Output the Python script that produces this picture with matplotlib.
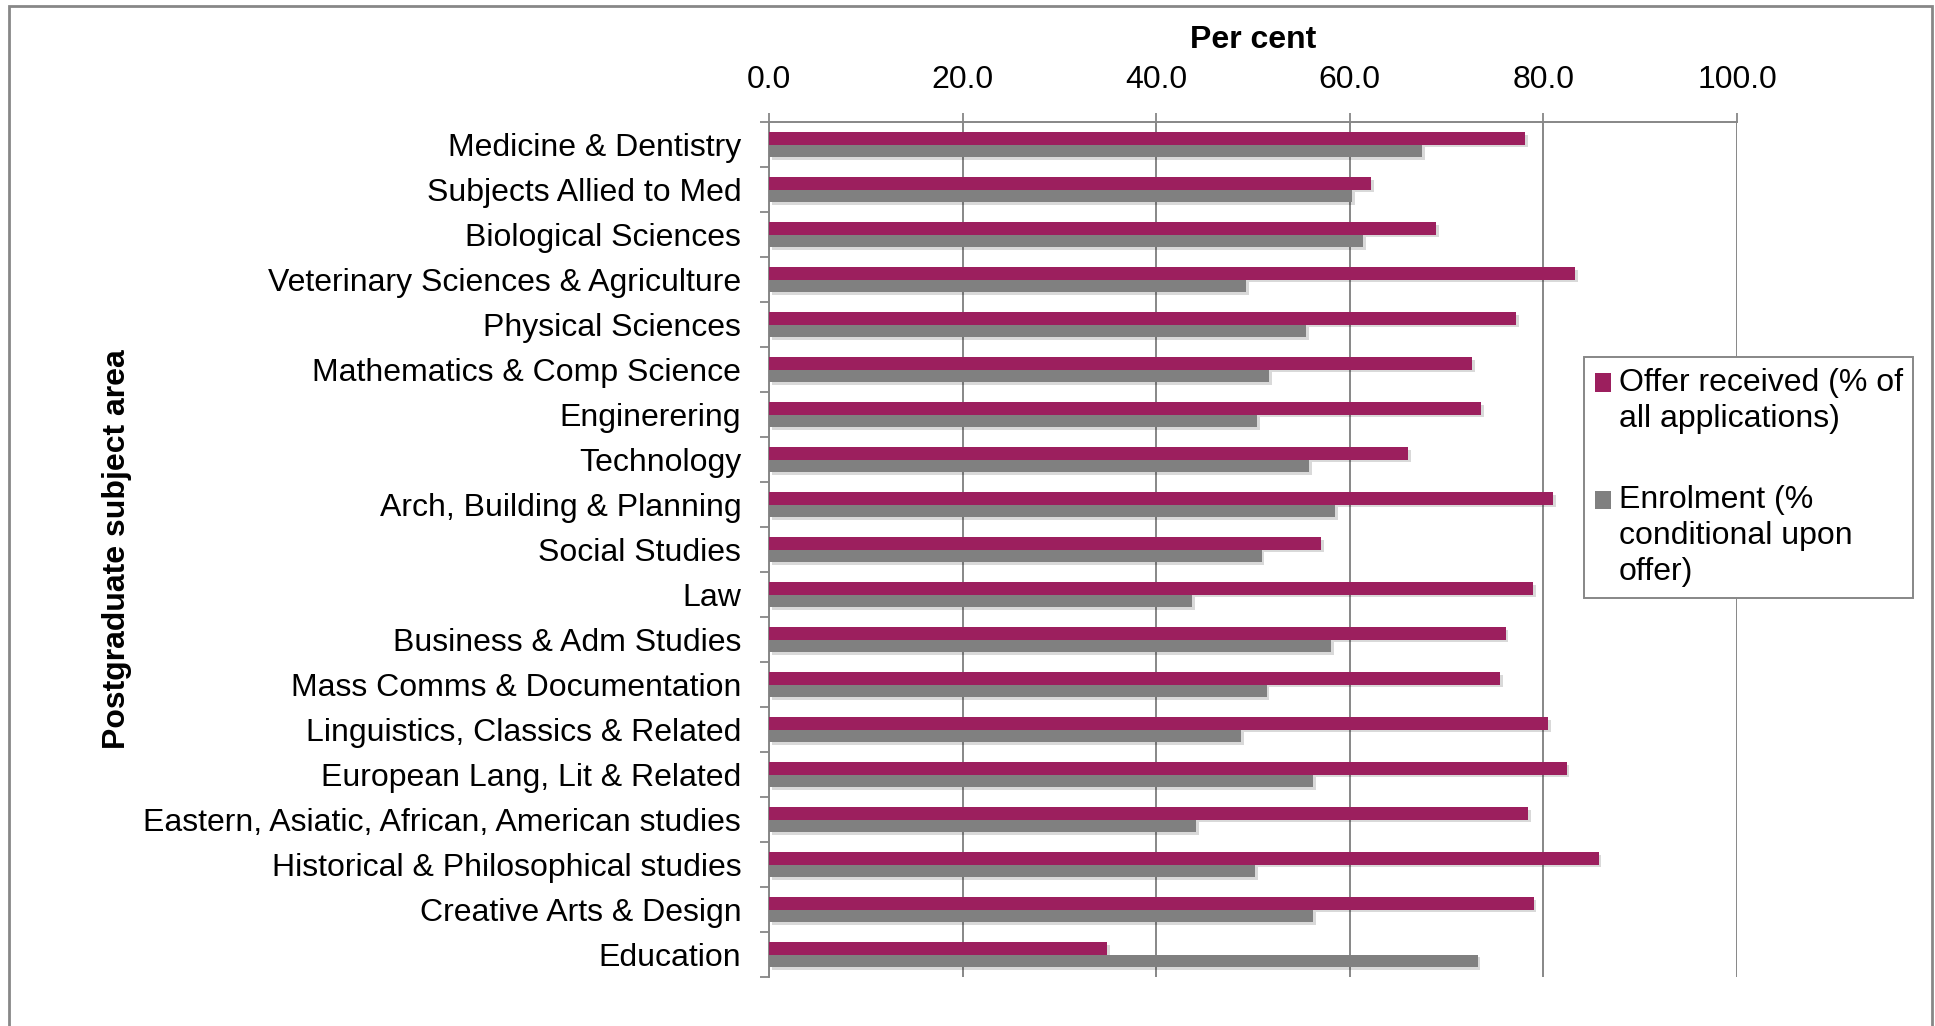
import matplotlib
matplotlib.use("Agg")
import matplotlib.pyplot as plt
import matplotlib.patheffects as pe
from matplotlib.patches import Rectangle, Patch
from matplotlib.legend_handler import HandlerPatch
import numpy as np

# data (per cent)
subjects = ["Medicine & Dentistry", "Subjects Allied to Med", "Biological Sciences",
            "Veterinary Sciences & Agriculture", "Physical Sciences",
            "Mathematics & Comp Science", "Enginerering", "Technology",
            "Arch, Building & Planning", "Social Studies", "Law",
            "Business & Adm Studies", "Mass Comms & Documentation",
            "Linguistics, Classics & Related", "European Lang, Lit & Related",
            "Eastern, Asiatic, African, American studies",
            "Historical & Philosophical studies", "Creative Arts & Design", "Education"]
offer = [78.1, 62.2, 68.9, 83.3, 77.2, 72.6, 73.6, 66.0, 81.0, 57.0,
         78.9, 76.1, 75.5, 80.5, 82.4, 78.4, 85.7, 79.0, 34.9]
enrol = [67.5, 60.2, 61.4, 49.3, 55.5, 51.7, 50.4, 55.8, 58.5, 50.9,
         43.7, 58.1, 51.4, 48.8, 56.2, 44.1, 50.2, 56.2, 73.2]
series_names = ["Offer received (% of\nall applications)",
                "Enrolment (%\nconditional upon\noffer)"]
xticks = [0, 20, 40, 60, 80, 100]

magenta = "#9C1F5E"
grey = "#808080"
linecol = "#878787"
fs = 23

plt.rcParams['font.family'] = ['Liberation Sans', 'DejaVu Sans']

fig = plt.figure(figsize=(19.35, 10.26), dpi=100)
ax = fig.add_axes([769/1935, 1 - 977/1026, 968/1935, 855/1026])

y = np.arange(len(subjects))
h = 0.278
shadow = [pe.SimplePatchShadow(offset=(2, -2), shadow_rgbFace="#000000", alpha=0.15), pe.Normal()]
b1 = ax.barh(y - h/2, offer, height=h, color=magenta, zorder=3)
b2 = ax.barh(y + h/2, enrol, height=h, color=grey, zorder=3)
for bar in list(b1) + list(b2):
    bar.set_path_effects(shadow)

ax.set_xlim(0, 100)
ax.set_ylim(len(subjects) - 0.5, -0.5)

# x axis on top
ax.xaxis.tick_top()
ax.xaxis.set_label_position('top')
ax.set_xticks(xticks)
ax.set_xticklabels([f"{v:.1f}" for v in xticks], fontsize=fs)
ax.tick_params(axis='x', direction='out', length=6.5, width=1.3, color=linecol, pad=13)
ax.set_xlabel("Per cent", fontsize=fs, fontweight='bold', labelpad=12)
ax.grid(axis='x', color=linecol, linewidth=1.4, zorder=0)

# y ticks at category boundaries, labels at centres
ax.set_yticks(np.arange(-0.5, len(subjects), 1.0))
ax.set_yticklabels([])
ax.set_yticks(y, minor=True)
ax.set_yticklabels(subjects, minor=True, fontsize=fs)
ax.tick_params(axis='y', which='major', direction='out', length=6.5, width=1.3, color=linecol)
ax.tick_params(axis='y', which='minor', length=0, pad=20)
ax.set_ylabel("Postgraduate subject area", fontsize=fs, fontweight='bold')
ax.yaxis.set_label_coords(-0.658, 0.5)

for s in ['right', 'bottom']:
    ax.spines[s].set_visible(False)
for s in ['left', 'top']:
    ax.spines[s].set_color(linecol)
    ax.spines[s].set_linewidth(1.4)


def top_square(nlines):
    # put the square next to the first text line, like Excel does
    def make(legend, orig_handle, xdescent, ydescent, width, height, fontsize):
        shift = (nlines - 1) / 2 * 1.14 * fontsize
        return Rectangle((-xdescent, -ydescent + shift), width, height)
    return make


p1 = Patch(facecolor=magenta, label=series_names[0])
p2 = Patch(facecolor=grey, label=series_names[1])
leg = ax.legend(handles=[p1, p2], fontsize=fs, loc='upper left',
                bbox_to_anchor=(1584/1935, 1 - 357/1026), bbox_transform=fig.transFigure,
                borderaxespad=0, fancybox=False, framealpha=1, edgecolor=linecol,
                handlelength=0.5, handleheight=0.5, handletextpad=0.25,
                borderpad=0.33, labelspacing=1.62,
                handler_map={p1: HandlerPatch(patch_func=top_square(2)),
                             p2: HandlerPatch(patch_func=top_square(3))})
leg.get_frame().set_linewidth(1.4)
for t in leg.get_texts():
    t.set_linespacing(1.26)

# chart border
fig.patches.append(Rectangle((8.7/1935, -0.02), (1931.7 - 8.7)/1935, 1.02 - 5.7/1026,
                             transform=fig.transFigure, fill=False,
                             edgecolor="#878787", linewidth=2))

fig.savefig("out.png", dpi=100)
